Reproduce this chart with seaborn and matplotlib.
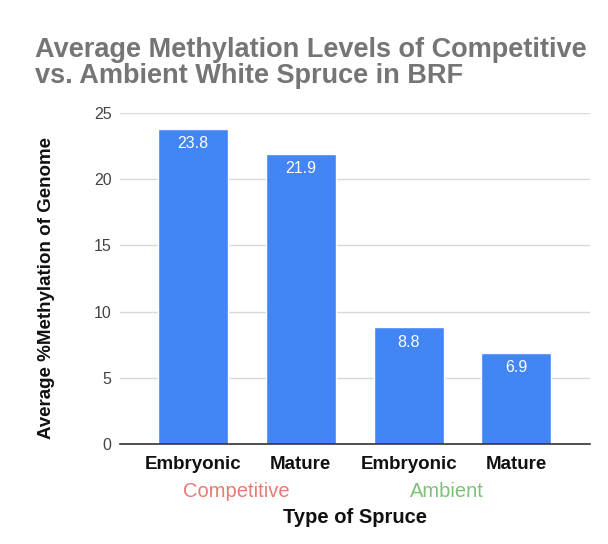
import pandas as pd
import matplotlib.pyplot as plt
import seaborn as sns

# --------- DATA ----------
stages = ["Embryonic", "Mature", "Embryonic", "Mature"]
groups = ["Competitive", "Competitive", "Ambient", "Ambient"]
values = [23.8, 21.9, 8.8, 6.9]
group_names = ["Competitive", "Ambient"]
group_colors = ["#E67C73", "#7FBF7B"]

df = pd.DataFrame({"key": [f"{g} {s}" for g, s in zip(groups, stages)],
                   "stage": stages, "group": groups, "value": values})

sns.set_theme(style="white")
plt.rcParams['font.family'] = ['Liberation Sans', 'DejaVu Sans']

fig = plt.figure(figsize=(6.08, 5.44), dpi=100)
ax = fig.add_axes([0.197, 0.184, 0.773, 0.608])

sns.barplot(data=df, x="key", y="value", color="#4285F4", width=0.65,
            saturation=1, ax=ax, zorder=3)

# value labels inside the bars
for i, v in enumerate(df["value"]):
    ax.text(i, v - 0.55, f"{v}", ha="center", va="top", color="white",
            fontsize=11.5, zorder=4)

ax.set_ylim(0, 25)
ax.set_xlim(-0.68, 3.68)
ax.set_yticks([0, 5, 10, 15, 20, 25])
ax.yaxis.grid(True, color="#D9D9D9", linewidth=1, zorder=0)
for s in ["top", "right", "left"]:
    ax.spines[s].set_visible(False)
ax.spines["bottom"].set_color("#333333")
ax.spines["bottom"].set_linewidth(1.2)
ax.spines["bottom"].set_zorder(5)
ax.tick_params(axis="y", length=0, pad=6, labelsize=11.5, labelcolor="#444444")
ax.tick_params(axis="x", length=0, pad=9)
ax.set_xticks(range(len(stages)))
ax.set_xticklabels(stages, fontsize=13.5, fontweight="bold", color="#111111")

# group labels under pairs of bars
group_pos = [0.40, 2.35]
for name, col, xp in zip(group_names, group_colors, group_pos):
    ax.text(xp, -0.145, name, transform=ax.get_xaxis_transform(),
            ha="center", va="center", fontsize=14.5, color=col)

ax.set_xlabel("Type of Spruce", fontsize=14.5, fontweight="bold", color="#111111")
ax.xaxis.label.set_va("center")
ax.xaxis.set_label_coords(0.5, -0.224)
ax.set_ylabel("Average %Methylation of Genome", fontsize=13.5, fontweight="bold",
              color="#111111")
ax.yaxis.label.set_va("center")
ax.yaxis.set_label_coords(-0.155, 0.47)

fig.text(0.058, 0.932, "Average Methylation Levels of Competitive\nvs. Ambient White Spruce in BRF",
         ha="left", va="top", fontsize=19.5, fontweight="bold", color="#757575",
         linespacing=1.0)

fig.savefig("out.png", dpi=100)
